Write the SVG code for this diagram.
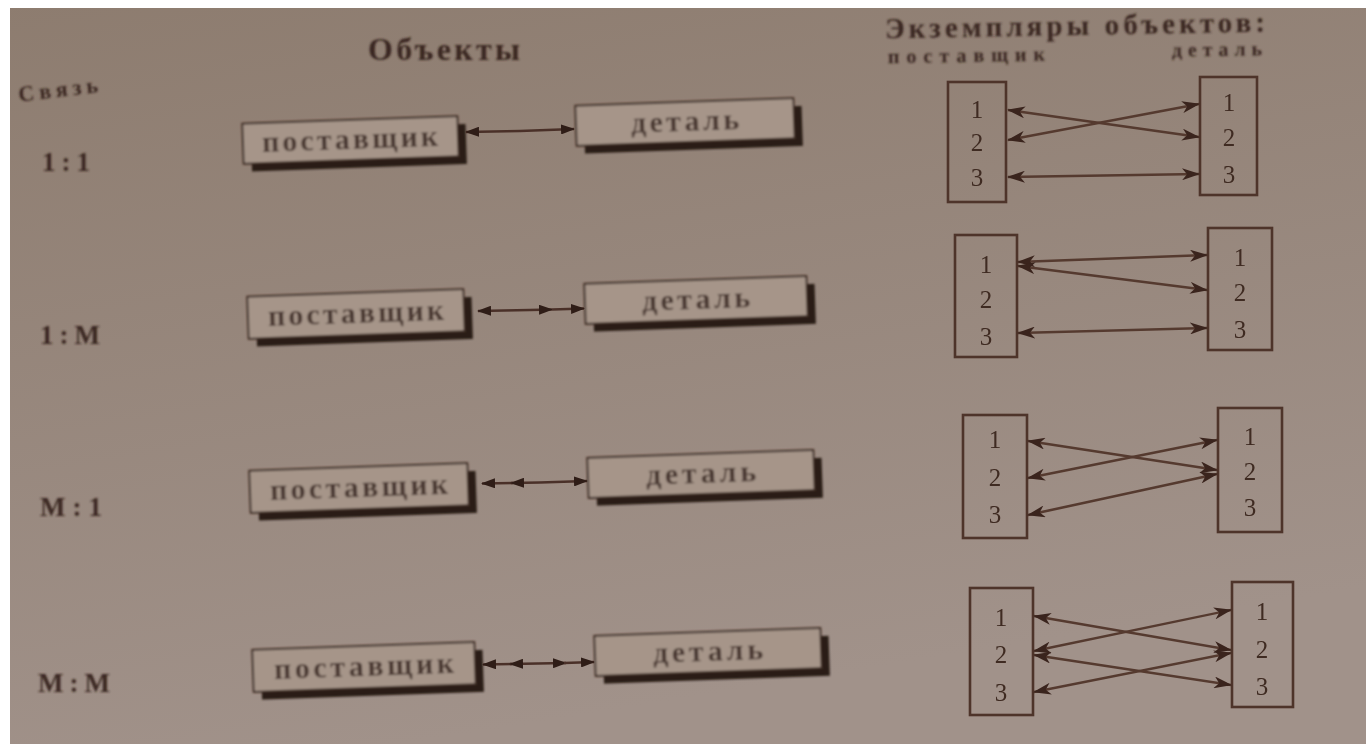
<svg xmlns="http://www.w3.org/2000/svg" width="1366" height="744" viewBox="0 0 1366 744">
<defs>
<linearGradient id="bg" x1="0" y1="0" x2="0.3" y2="1">
<stop offset="0" stop-color="#8d7c6f"/>
<stop offset="1" stop-color="#a1928a"/>
</linearGradient>
<marker id="tri" viewBox="0 0 14 10" refX="13" refY="5" markerWidth="14" markerHeight="10" markerUnits="userSpaceOnUse" orient="auto">
<path d="M0,0 L14,5 L0,10 z" fill="#2f1d17"/>
</marker>
<marker id="barb" viewBox="0 0 18 12" refX="17" refY="6" markerWidth="18" markerHeight="12" markerUnits="userSpaceOnUse" orient="auto-start-reverse">
<path d="M0,0 L18,6 L0,12 L5,6 z" fill="#3a241d"/>
</marker>
<filter id="soft" x="-5%" y="-20%" width="110%" height="140%">
<feGaussianBlur stdDeviation="0.8"/>
</filter>
</defs>
<style>
.t{font-family:"Liberation Serif","DejaVu Serif",serif;font-weight:bold;fill:#3a2820}
.face{fill:#a69589;stroke:#3e2a22;stroke-width:2}
.shadow{fill:#2b1b15}
.bt{font-family:"Liberation Serif","DejaVu Serif",serif;font-weight:bold;font-size:30px;fill:#4a3830;text-anchor:middle}
.conn{stroke:#4a3028;stroke-width:2.5;fill:none}
.ib{fill:none;stroke:#4e342a;stroke-width:2.6}
.num{font-family:"Liberation Serif","DejaVu Serif",serif;font-size:25px;fill:#3f2b22;text-anchor:middle}
.il{stroke:#553a2f;stroke-width:2.4;fill:none;marker-start:url(#barb);marker-end:url(#barb)}
</style>
<rect width="1366" height="744" fill="url(#bg)"/>
<rect x="0" y="0" width="1366" height="8" fill="#ffffff"/>
<rect x="0" y="0" width="10" height="744" fill="#ffffff"/>

<g id="labels" filter="url(#soft)">
<text class="t" x="18" y="97" font-size="22" textLength="80" transform="rotate(-7 58 90)">Связь</text>
<text class="t" x="368" y="60" font-size="32" textLength="152">Объекты</text>
<text class="t" x="885" y="35" font-size="29" textLength="380" transform="rotate(-1 1075 28)">Экземпляры объектов:</text>
<text class="t" x="888" y="62" font-size="20" textLength="157" transform="rotate(-1 966 56)">поставщик</text>
<text class="t" x="1172" y="56" font-size="20" textLength="90" transform="rotate(-1 1217 50)">деталь</text>
<text class="t" x="42" y="171" font-size="27" textLength="48">1:1</text>
<text class="t" x="40" y="344" font-size="27" textLength="60">1:M</text>
<text class="t" x="40" y="516" font-size="27" textLength="62">M:1</text>
<text class="t" x="38" y="692" font-size="27" textLength="72">M:M</text>
</g>

<g id="sup1" transform="rotate(-2 350 140)" filter="url(#soft)">
<rect class="shadow" x="251" y="128" width="215" height="40"/>
<rect class="face" x="243" y="120" width="215" height="40"/>
<text class="bt" x="350" y="149" textLength="176">поставщик</text>
</g>
<g id="det1" transform="rotate(-2 685 122)" filter="url(#soft)">
<rect class="shadow" x="584" y="110" width="218" height="40"/>
<rect class="face" x="576" y="102" width="218" height="40"/>
<text class="bt" x="685" y="131" textLength="108">деталь</text>
</g>
<g id="sup2" transform="rotate(-2 355 314)" filter="url(#soft)">
<rect class="shadow" x="256" y="301" width="216" height="42"/>
<rect class="face" x="248" y="293" width="216" height="42"/>
<text class="bt" x="356" y="323" textLength="176">поставщик</text>
</g>
<g id="det2" transform="rotate(-2 696 300)" filter="url(#soft)">
<rect class="shadow" x="593" y="288" width="222" height="40"/>
<rect class="face" x="585" y="280" width="222" height="40"/>
<text class="bt" x="696" y="309" textLength="108">деталь</text>
</g>
<g id="sup3" transform="rotate(-2 359 488)" filter="url(#soft)">
<rect class="shadow" x="258" y="475" width="218" height="42"/>
<rect class="face" x="250" y="467" width="218" height="42"/>
<text class="bt" x="359" y="497" textLength="178">поставщик</text>
</g>
<g id="det3" transform="rotate(-2 701 474)" filter="url(#soft)">
<rect class="shadow" x="596" y="462" width="226" height="40"/>
<rect class="face" x="588" y="454" width="226" height="40"/>
<text class="bt" x="701" y="483" textLength="110">деталь</text>
</g>
<g id="sup4" transform="rotate(-2 364 667)" filter="url(#soft)">
<rect class="shadow" x="261" y="654" width="222" height="42"/>
<rect class="face" x="253" y="646" width="222" height="42"/>
<text class="bt" x="364" y="676" textLength="180">поставщик</text>
</g>
<g id="det4" transform="rotate(-2 708 652)" filter="url(#soft)">
<rect class="shadow" x="603" y="640" width="226" height="40"/>
<rect class="face" x="595" y="632" width="226" height="40"/>
<text class="bt" x="708" y="661" textLength="110">деталь</text>
</g>

<g id="inst1L"><rect class="ib" x="948" y="82" width="58" height="120"/><text class="num" x="977" y="118">1</text><text class="num" x="977" y="151">2</text><text class="num" x="977" y="186">3</text></g>
<g id="inst1R"><rect class="ib" x="1200" y="77" width="57" height="118"/><text class="num" x="1229" y="111">1</text><text class="num" x="1229" y="146">2</text><text class="num" x="1229" y="183">3</text></g>
<g id="inst2L"><rect class="ib" x="955" y="235" width="62" height="122"/><text class="num" x="986" y="273">1</text><text class="num" x="986" y="308">2</text><text class="num" x="986" y="345">3</text></g>
<g id="inst2R"><rect class="ib" x="1208" y="228" width="64" height="122"/><text class="num" x="1240" y="266">1</text><text class="num" x="1240" y="301">2</text><text class="num" x="1240" y="338">3</text></g>
<g id="inst3L"><rect class="ib" x="963" y="415" width="64" height="123"/><text class="num" x="995" y="448">1</text><text class="num" x="995" y="486">2</text><text class="num" x="995" y="523">3</text></g>
<g id="inst3R"><rect class="ib" x="1218" y="408" width="64" height="124"/><text class="num" x="1250" y="445">1</text><text class="num" x="1250" y="480">2</text><text class="num" x="1250" y="516">3</text></g>
<g id="inst4L"><rect class="ib" x="970" y="588" width="63" height="127"/><text class="num" x="1001" y="626">1</text><text class="num" x="1001" y="663">2</text><text class="num" x="1001" y="701">3</text></g>
<g id="inst4R"><rect class="ib" x="1232" y="582" width="61" height="125"/><text class="num" x="1262" y="620">1</text><text class="num" x="1262" y="658">2</text><text class="num" x="1262" y="695">3</text></g>

<g id="connectors">
<path class="conn" d="M520,131 L466,132" marker-end="url(#tri)"/>
<path class="conn" d="M520,131 L574,129" marker-end="url(#tri)"/>

<path class="conn" d="M530,310 L478,311" marker-end="url(#tri)"/>
<path class="conn" d="M530,310 L552,309.5" marker-end="url(#tri)"/>
<path class="conn" d="M552,309.5 L584,308.5" marker-end="url(#tri)"/>

<path class="conn" d="M513,483 L482,483.5" marker-end="url(#tri)"/>
<path class="conn" d="M540,482.5 L511,483" marker-end="url(#tri)"/>
<path class="conn" d="M540,482.5 L587,481" marker-end="url(#tri)"/>

<path class="conn" d="M512,664 L483,664.5" marker-end="url(#tri)"/>
<path class="conn" d="M538,663.5 L510,664" marker-end="url(#tri)"/>
<path class="conn" d="M538,663.5 L566,663" marker-end="url(#tri)"/>
<path class="conn" d="M564,663 L594,662" marker-end="url(#tri)"/>

<line class="il" x1="1008" y1="110" x2="1199" y2="137"/>
<line class="il" x1="1008" y1="140" x2="1199" y2="104"/>
<line class="il" x1="1008" y1="177" x2="1199" y2="174"/>

<line class="il" x1="1018" y1="262" x2="1207" y2="255"/>
<line class="il" x1="1018" y1="266" x2="1207" y2="290"/>
<line class="il" x1="1018" y1="333" x2="1207" y2="328"/>

<line class="il" x1="1028" y1="441" x2="1217" y2="470"/>
<line class="il" x1="1028" y1="478" x2="1217" y2="440"/>
<line class="il" x1="1028" y1="515" x2="1217" y2="474"/>

<line class="il" x1="1034" y1="616" x2="1231" y2="650"/>
<line class="il" x1="1034" y1="651" x2="1231" y2="610"/>
<line class="il" x1="1034" y1="655" x2="1231" y2="685"/>
<line class="il" x1="1034" y1="692" x2="1231" y2="653"/>
</g>
</svg>
